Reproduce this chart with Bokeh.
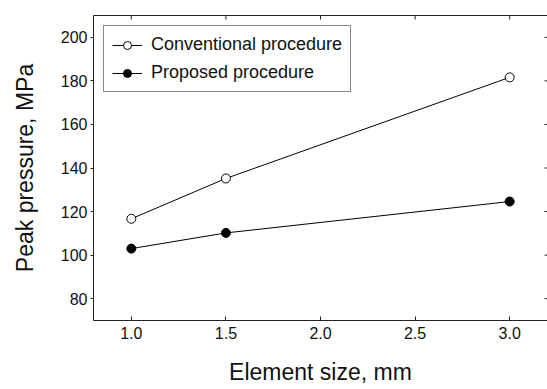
import math
from bokeh.plotting import figure
from bokeh.models import LinearAxis, Range1d, FixedTicker, Legend, LegendItem
from bokeh.embed import file_html
from bokeh.resources import INLINE

element_size = [1.0, 1.5, 3.0]
conventional = [116.7, 135.2, 181.6]
proposed = [103.0, 110.2, 124.6]
x_ticks = [1.0, 1.5, 2.0, 2.5, 3.0]
y_ticks = [80, 100, 120, 140, 160, 180, 200]
x_lim = (0.8, 3.2)
y_lim = (70, 210)

FONT = "Liberation Sans"
AX = "#222222"
TXT = "#111111"

p = figure(frame_width=454, frame_height=305, output_backend="svg", toolbar_location=None,
           x_range=Range1d(*x_lim), y_range=Range1d(*y_lim),
           min_border_left=93, min_border_right=0, min_border_top=15, min_border_bottom=69,
           x_axis_label="Element size, mm", y_axis_label="Peak pressure, MPa")
p.outline_line_color = None
p.xgrid.visible = False
p.ygrid.visible = False
p.background_fill_color = "white"
p.border_fill_color = "white"

for ax in (p.xaxis[0], p.yaxis[0]):
    ax.axis_line_color = AX
    ax.major_tick_line_color = AX
    ax.minor_tick_line_color = None
    ax.major_label_text_font = FONT
    ax.major_label_text_font_size = "16px"
    ax.major_label_text_color = TXT
    ax.axis_label_text_font = FONT
    ax.axis_label_text_font_size = "23px"
    ax.axis_label_text_font_style = "normal"
    ax.axis_label_text_color = TXT

p.xaxis[0].ticker = FixedTicker(ticks=x_ticks)
p.xaxis[0].major_label_overrides = {t: f"{t:.1f}" for t in x_ticks}
p.xaxis[0].major_tick_in = 4
p.xaxis[0].major_tick_out = 0
p.xaxis[0].major_label_standoff = 6
p.xaxis[0].axis_label_standoff = 17

p.yaxis[0].ticker = FixedTicker(ticks=y_ticks)
p.yaxis[0].major_tick_in = 0
p.yaxis[0].major_tick_out = 3
p.yaxis[0].major_label_standoff = 3
p.yaxis[0].axis_label_standoff = 20

# top spine (no labels)
top = LinearAxis(ticker=FixedTicker(ticks=[]), axis_line_color=AX,
                 major_tick_line_color=None, minor_tick_line_color=None)
p.add_layout(top, "above")

# inward ticks on top and right edges
p.scatter(x_ticks, [y_lim[1]] * len(x_ticks), marker="dash", size=8, angle=math.pi / 2,
          line_color=AX, line_width=1)
p.scatter([x_lim[1]] * len(y_ticks), y_ticks, marker="dash", size=6,
          line_color=AX, line_width=1)

l1 = p.line(element_size, conventional, line_color="black", line_width=1)
m1 = p.scatter(element_size, conventional, marker="circle", size=9,
               fill_color="white", line_color="black", line_width=1)
l2 = p.line(element_size, proposed, line_color="black", line_width=1)
m2 = p.scatter(element_size, proposed, marker="circle", size=9,
               fill_color="black", line_color="black", line_width=1)

legend = Legend(items=[LegendItem(label="Conventional procedure", renderers=[l1, m1]),
                       LegendItem(label="Proposed procedure", renderers=[l2, m2])],
                location=(10, 305 - 14 - 63))
legend.border_line_color = TXT
legend.border_line_width = 1
legend.background_fill_alpha = 1
legend.label_text_font = FONT
legend.label_text_font_size = "18px"
legend.label_text_color = TXT
legend.padding = 8
legend.spacing = 7
legend.glyph_width = 30
legend.glyph_height = 20
legend.label_height = 20
legend.label_standoff = 9
legend.margin = 0
p.add_layout(legend, "center")

open("out.html", "w").write(file_html(p, INLINE))
